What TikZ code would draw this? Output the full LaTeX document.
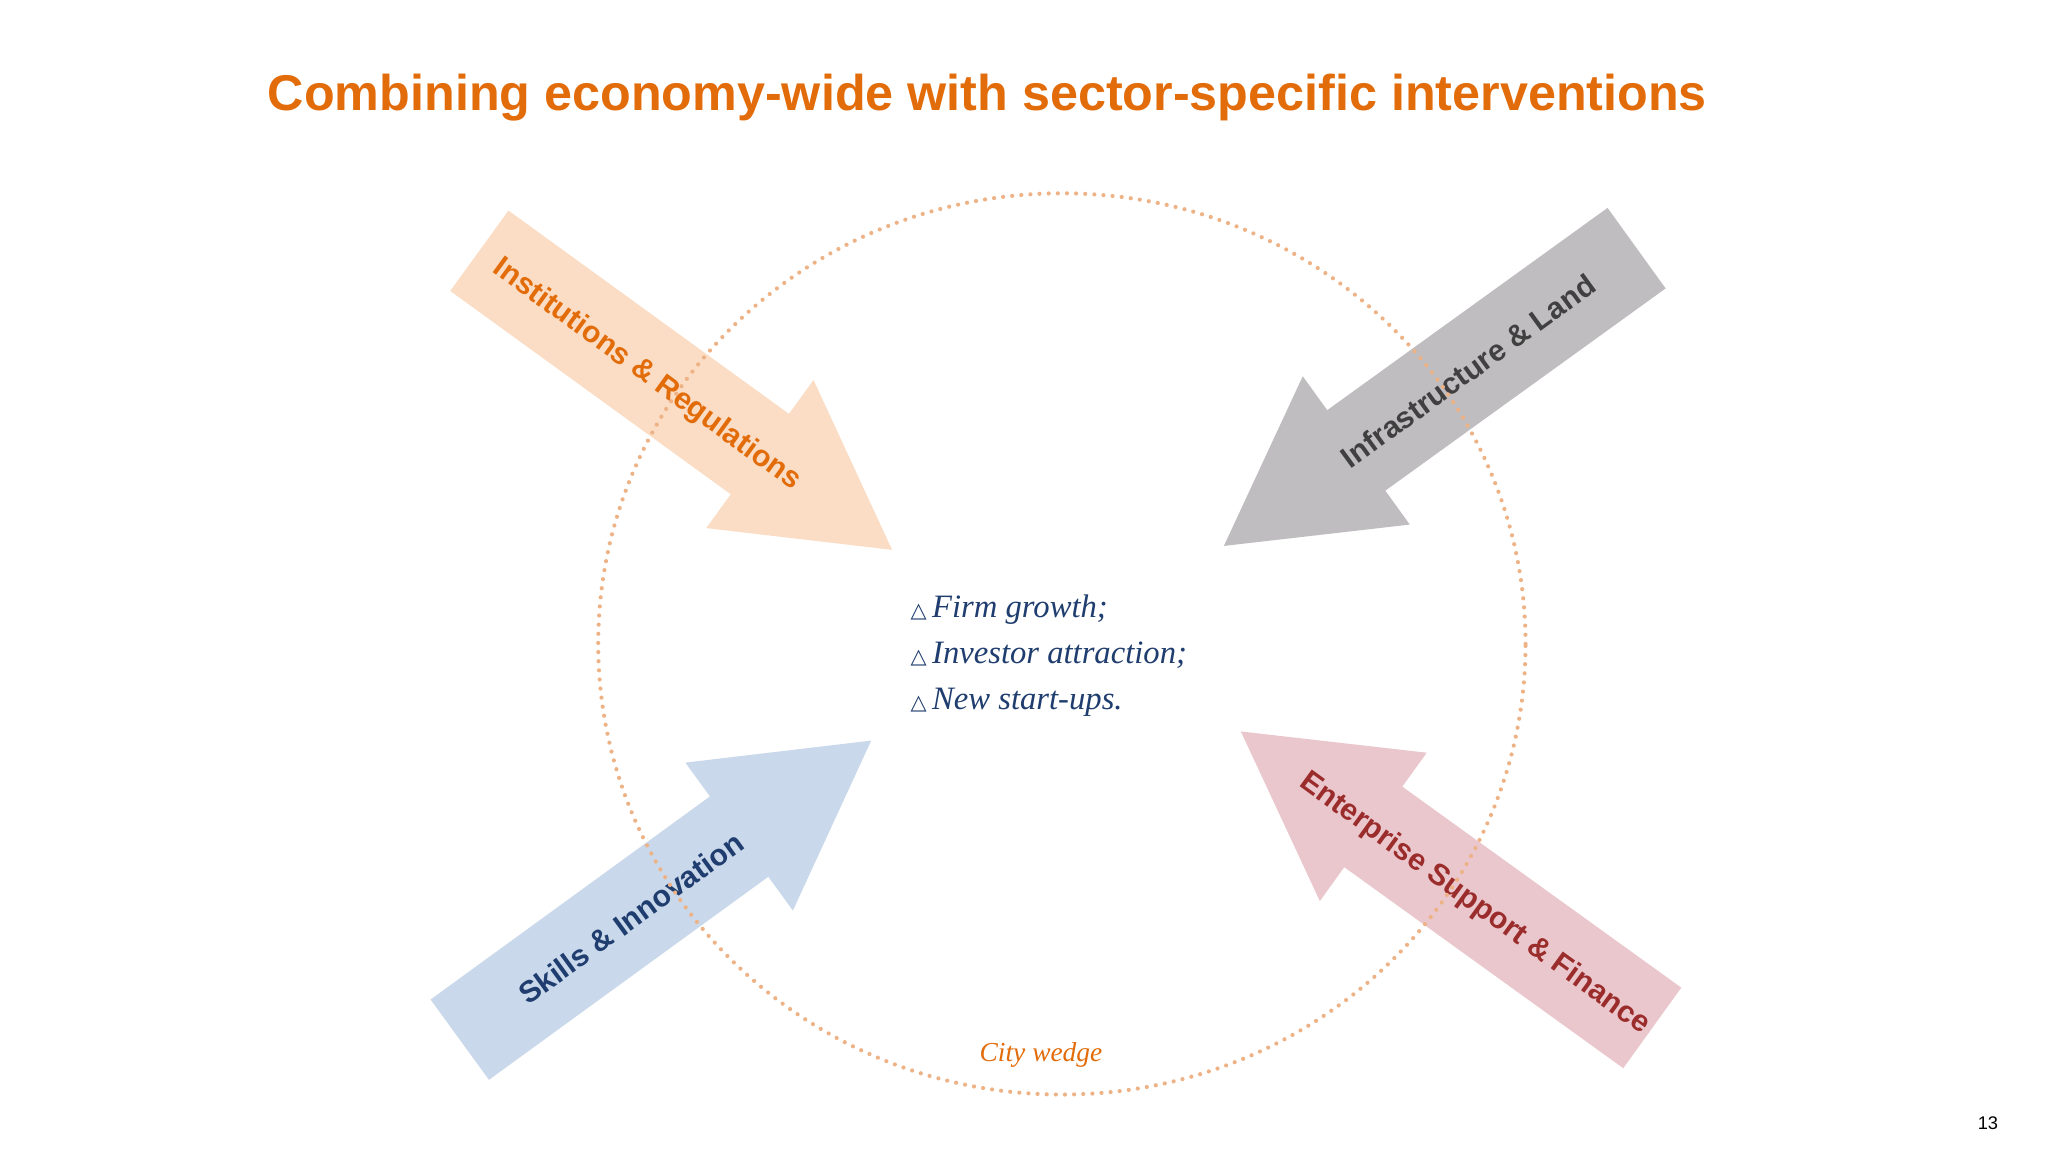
\documentclass[tikz,border=0pt]{standalone}
\usepackage{fontspec}
\setmainfont{Liberation Sans}
\newfontfamily\serifit{Liberation Serif}
\newfontfamily\symf{DejaVu Sans}
\definecolor{ttl}{HTML}{E36C0A}
\definecolor{peach}{HTML}{FBDDC5}
\definecolor{grayA}{HTML}{BFBDC0}
\definecolor{blueA}{HTML}{C9D8EA}
\definecolor{pinkA}{HTML}{EAC7CC}
\definecolor{navy}{HTML}{1F3D6E}
\definecolor{dred}{HTML}{9B2C2C}
\definecolor{dotc}{HTML}{EDB386}
\newcommand\barrow[5]{%
 \pgfmathsetmacro\ang{atan2(-(#4-#2),#3-#1)}%
 \pgfmathsetmacro\len{veclen(#3-#1,#4-#2)}%
 \fill[#5,shift={(#1,-#2)},rotate=\ang] (0,-38) -- (\len-125,-38) -- (\len-125,-70) -- (\len,0) -- (\len-125,70) -- (\len-125,38) -- (0,38) -- cycle;}
\tikzset{lab/.style={font=\fontsize{23}{26}\selectfont\bfseries,inner sep=0pt},
 ctext/.style={font=\fontsize{25}{28}\selectfont\serifit\itshape,text=navy,anchor=west,inner sep=0pt}}
\begin{document}
\begin{tikzpicture}[x=1pt,y=1pt]
\useasboundingbox[fill=white] (0,0) rectangle (1568,-882);
\node[font=\fontsize{38.5}{44}\selectfont\bfseries,text=ttl] (title) at (756,-75) {Combining economy-wide with sector-specific interventions};
\barrow{367}{192}{683}{421}{peach}
\barrow{1253}{190}{937}{418}{grayA}
\barrow{352}{796}{667}{567}{blueA}
\barrow{1265}{787}{950}{560}{pinkA}
\node[lab,text=ttl,rotate=-36] (inst) at (495,-287) {Institutions \& Regulations};
\node[lab,text=black!75,rotate=36] (infr) at (1124,-284) {Infrastructure \& Land};
\node[lab,text=navy,rotate=36] (skil) at (483,-703) {Skills \& Innovation};
\node[lab,text=dred,rotate=-36] (entr) at (1129,-692) {Enterprise Support \& Finance};
\draw[dotc,line width=3.2pt,dash pattern=on 0pt off 7pt,line cap=round] (813,-493) ellipse [x radius=355,y radius=345];
\node[ctext] (t1) at (697,-467) {{\symf\fontsize{16}{20}\selectfont △}\,Firm growth;};
\node[ctext] (t2) at (697,-502) {{\symf\fontsize{16}{20}\selectfont △}\,Investor attraction;};
\node[ctext] (t3) at (697,-538) {{\symf\fontsize{16}{20}\selectfont △}\,New start-ups.};
\node[font=\fontsize{21}{24}\selectfont\serifit\itshape,text=ttl] (cw) at (797,-808) {City wedge};
\node[font=\fontsize{14}{16}\selectfont] (pg) at (1522,-860) {13};
\end{tikzpicture}
\end{document}
